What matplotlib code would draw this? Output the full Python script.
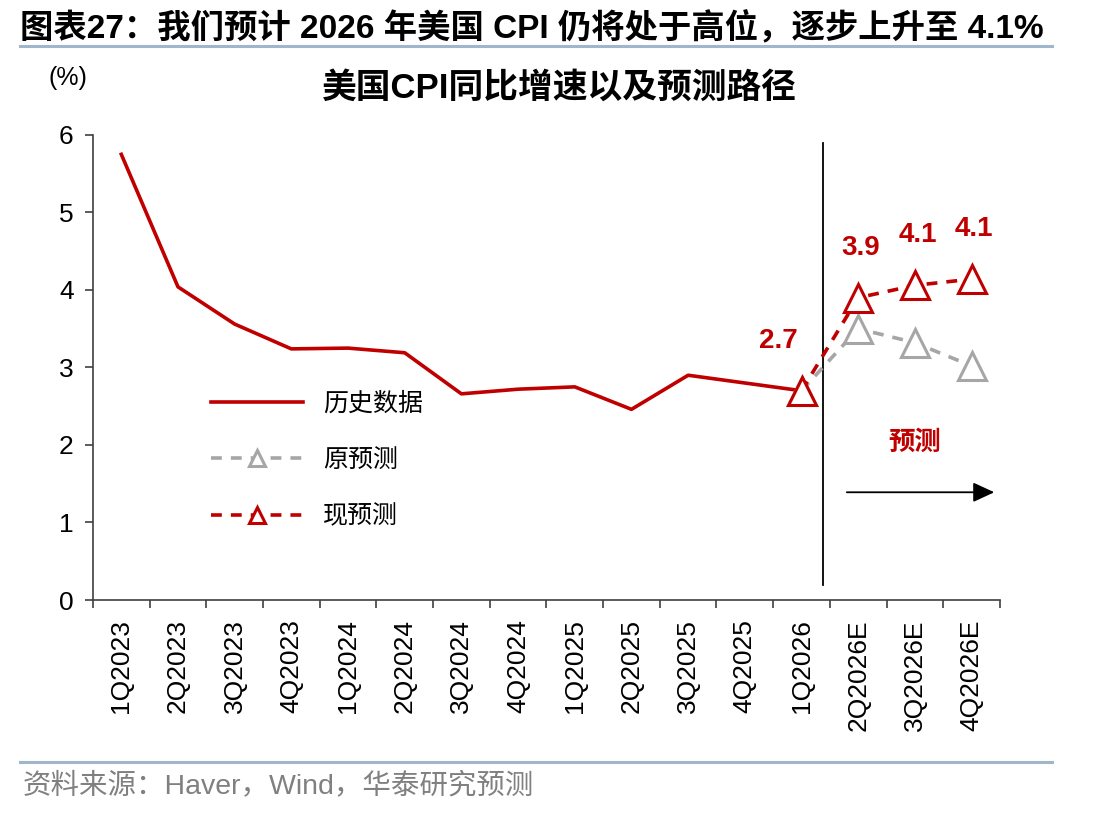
import numpy as np
import matplotlib
matplotlib.use('Agg')
import matplotlib.pyplot as plt
from matplotlib.lines import Line2D

plt.rcParams['font.family'] = ['Liberation Sans', 'Noto Sans CJK SC']

# datos
quarters = ['1Q2023', '2Q2023', '3Q2023', '4Q2023', '1Q2024', '2Q2024', '3Q2024',
            '4Q2024', '1Q2025', '2Q2025', '3Q2025', '4Q2025', '1Q2026',
            '2Q2026E', '3Q2026E', '4Q2026E']
historico = [5.75, 4.04, 3.56, 3.24, 3.25, 3.19, 2.66, 2.72, 2.75, 2.46, 2.90, 2.80, 2.70]
pred_original = [2.70, 3.50, 3.32, 3.02]
pred_actual = [2.70, 3.90, 4.06, 4.14]
etiquetas_pred = ['2.7', '3.9', '4.1', '4.1']

rojo = '#C00000'
gris = '#A6A6A6'

fig = plt.figure(figsize=(11.12, 8.16), dpi=100)
ax = fig.add_axes([0.0836, 0.2647, 0.8156, 0.5699])

x_hist = np.arange(len(historico))
x_pred = np.arange(len(historico) - 1, len(quarters))

ax.plot(x_hist, historico, color=rojo, lw=2.6, label='历史数据')
ax.plot(x_pred, pred_original, color=gris, lw=2.6, ls=(0, (3, 2.5)), marker='^',
        ms=20, mfc='white', mec=gris, mew=2.2, label='原预测', zorder=3)
ax.plot(x_pred, pred_actual, color=rojo, lw=2.6, ls=(0, (3, 2.5)), marker='^',
        ms=20, mfc='white', mec=rojo, mew=2.2, label='现预测', zorder=4)

# etiquetas de valores
for i, (xx, yy) in enumerate(zip(x_pred, pred_actual)):
    dx = -17 if i == 0 else 2
    ax.annotate(etiquetas_pred[i], (xx, yy), xytext=(dx, 36), textcoords='offset points',
                ha='center', va='center', color=rojo, fontsize=20, fontweight='bold')

# linea divisoria y flecha de prediccion
ax.plot([12.38, 12.38], [0.19, 5.9], color='black', lw=1.3)
ax.annotate('', xy=(15.45, 1.39), xytext=(12.75, 1.39),
            arrowprops=dict(arrowstyle='-|>,head_length=1.3,head_width=0.6',
                            color='black', lw=1.3))
ax.text(14.0, 2.03, '预测', color=rojo, fontsize=19, fontweight='bold',
        ha='center', va='center')

ax.set_xlim(-0.5, 15.5)
ax.set_ylim(0, 6)
ax.set_yticks(range(0, 7))
ax.set_xticks(np.arange(len(quarters)))
ax.set_xticklabels(quarters, rotation=90)
ax.set_xticks(np.arange(-0.5, 16, 1), minor=True)
ax.tick_params(axis='x', which='major', length=0, labelsize=19, pad=14)
ax.tick_params(axis='x', which='minor', length=6, width=1.2, color='#404040')
ax.tick_params(axis='y', labelsize=19, length=6, width=1.2, color='#404040', pad=8)
for lado in ['top', 'right']:
    ax.spines[lado].set_visible(False)
for lado in ['left', 'bottom']:
    ax.spines[lado].set_color('#404040')
    ax.spines[lado].set_linewidth(1.2)

leg = ax.legend(loc='upper left', bbox_to_anchor=(0.105, 0.497), frameon=False,
                fontsize=18, handlelength=3.7, handletextpad=0.8, labelspacing=1.3,
                numpoints=1)
for h in leg.legend_handles:
    h.set_markersize(12)

# textos de la figura
fig.text(0.018, 0.965, '图表27：我们预计 2026 年美国 CPI 仍将处于高位，逐步上升至 4.1%',
         fontsize=24, fontweight='bold', ha='left', va='center')
fig.add_artist(Line2D([0.018, 0.946], [0.944, 0.944], color='#9FB6CD', lw=2.2))
fig.text(0.503, 0.892, '美国CPI同比增速以及预测路径', fontsize=25, fontweight='bold',
         ha='center', va='center')
fig.text(0.061, 0.904, '(%)', fontsize=18, ha='center', va='center')
fig.add_artist(Line2D([0.018, 0.946], [0.066, 0.066], color='#9FB6CD', lw=2.2))
fig.text(0.02, 0.037, '资料来源：Haver，Wind，华泰研究预测', fontsize=20.5,
         color='#808080', ha='left', va='center')

fig.savefig('out.png', dpi=100)
